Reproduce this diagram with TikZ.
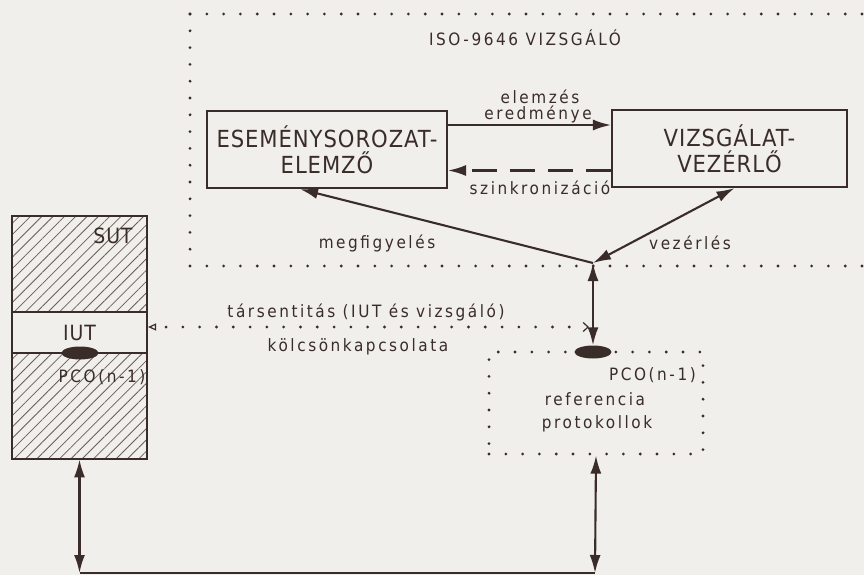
\documentclass[tikz,border=0pt]{standalone}
\usepackage{fontspec}
\setmainfont{DejaVu Sans}[FakeStretch=0.9]
\newfontfamily\bxfam{DejaVu Sans}[FakeStretch=0.9,LetterSpace=4]
\newfontfamily\lbfam{DejaVu Sans}[FakeStretch=0.9,LetterSpace=15]
\newcommand\bxfont{\bxfam\fontsize{23.5}{26}\selectfont}
\newcommand\lbfont{\lbfam\fontsize{17}{20}\selectfont}
\newcommand\midfont{\bxfam\fontsize{21}{24}\selectfont}
\usetikzlibrary{arrows.meta,patterns.meta,shapes.geometric}
\definecolor{ink}{HTML}{3A2C28}
\definecolor{paper}{HTML}{F0EFEC}
\definecolor{hatchc}{HTML}{6A5D58}
\begin{document}
\begin{tikzpicture}[x=1pt,y=-1pt,
  conn/.style={draw=ink,line width=2.1pt},
  tipe/.style={-{Latex[length=18pt,width=11pt]}},
  tipb/.style={{Latex[length=18pt,width=11pt]}-{Latex[length=18pt,width=11pt]}},
  boxnode/.style={draw=ink,line width=2.1pt,align=center,inner sep=0pt,text=ink,font=\bxfont},
  lbl/.style={text=ink,font=\lbfont,inner sep=1pt},
  dots/.style={draw=ink,line width=3.1pt,line cap=round,dash pattern=on 0pt off 16.8pt},
  blob/.style={ellipse,fill=ink,minimum width=37pt,minimum height=13pt,inner sep=0pt}
]
\fill[paper] (0,0) rectangle (864,575);
\useasboundingbox (0,0) rectangle (864,575);

% big dotted frame
\draw[dots] (190,14) -- (864,14);
\draw[dots] (190,14) -- (190,266) -- (864,266);
\node[lbl] (title) at (525,38) {ISO-9646 VIZSGÁLÓ};

% boxes
\node[boxnode,minimum width=240pt,minimum height=77pt] (esem) at (327,149.5) {ESEMÉNYSOROZAT-\\ELEMZŐ};
\node[boxnode,minimum width=235pt,minimum height=77pt] (vez) at (729.5,148.5) {VIZSGÁLAT-\\VEZÉRLŐ};

\draw[conn,tipe] ([yshift=24.5pt]esem.east) -- ([yshift=23.5pt]vez.west);
\node[lbl] (l1) at (540,97) {elemzés};
\node[lbl] (l2) at (538,114) {eredménye};
\draw[conn,tipe,dash pattern=on 25pt off 13pt] ([yshift=-22pt]vez.west) -- ([yshift=-21pt]esem.east);
\node[lbl] (l3) at (540,188) {szinkronizáció};

\coordinate (J) at (593,263);
\draw[conn,tipe] (J) -- ([xshift=-27pt]esem.south);
\draw[conn,tipb] (J) -- ([xshift=5pt]vez.south);
\node[lbl] (l4) at (377,243) {megfigyelés};
\node[lbl] (l5) at (690,243) {vezérlés};

% reference protocols box
\node[dots,minimum width=214pt,minimum height=102pt,inner sep=0pt] (ref) at (596,403) {};
\node[blob] (E2) at (593,352) {};
\draw[conn,tipb] (J) -- (E2.north);
\node[lbl,anchor=east] (pco2) at (697,375) {PCO(n-1)};
\node[lbl] (r1) at (595,399) {referencia};
\node[lbl] (r2) at (597,424) {protokollok};

% SUT
\node[draw=ink,line width=2.1pt,pattern={Lines[angle=45,distance=8pt,line width=0.8pt]},pattern color=hatchc,minimum width=135pt,minimum height=243pt,inner sep=0pt] (sut) at (79.5,337.5) {};
\node[draw=ink,line width=2.1pt,fill=paper,minimum width=135pt,minimum height=41pt,inner sep=0pt,text=ink,font=\midfont] (iut) at (79.5,332.5) {IUT};
\node[text=ink,font=\midfont,inner sep=0pt] (sutl) at (113,236) {SUT};
\node[blob] (E1) at (80,353) {};
\node[lbl] (pco1) at (102,377) {PCO(n-1)};

% dotted interaction connector
\coordinate (T) at (589,327);
\draw[ink,line width=1.2pt,dash pattern=on 0pt off 1000pt,{Triangle[open,length=8pt,width=7pt]}-{Straight Barb[length=5pt,width=9pt]}] (iut.east |- T) -- (T);
\draw[dots,shorten <=18pt,shorten >=8pt] (iut.east |- T) -- (T);
\node[lbl] (l6) at (366,312) {társentitás (IUT és vizsgáló)};
\node[lbl] (l7) at (358,347) {kölcsönkapcsolata};

% bottom connections
\coordinate (B) at (595,573);
\draw[conn] (sut.south |- B) -- (B);
\draw[conn,tipb] (sut.south) -- (sut.south |- B);
\draw[conn,tipb] (ref.south) -- (B);
\end{tikzpicture}
\end{document}
